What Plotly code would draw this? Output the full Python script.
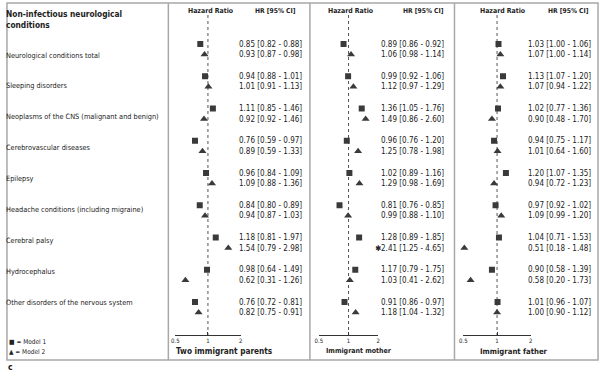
import plotly.graph_objects as go
import math

conditions = [
    "Neurological conditions total",
    "Sleeping disorders",
    "Neoplasms of the CNS (malignant and benign)",
    "Cerebrovascular diseases",
    "Epilepsy",
    "Headache conditions (including migraine)",
    "Cerebral palsy",
    "Hydrocephalus",
    "Other disorders of the nervous system",
]

panel_titles = ["Two immigrant parents", "Immigrant mother", "Immigrant father"]

two_m1_hr = [0.85, 0.94, 1.11, 0.76, 0.96, 0.84, 1.18, 0.98, 0.76]
two_m1_lo = [0.82, 0.88, 0.85, 0.59, 0.84, 0.80, 0.81, 0.64, 0.72]
two_m1_hi = [0.88, 1.01, 1.46, 0.97, 1.09, 0.89, 1.97, 1.49, 0.81]
two_m2_hr = [0.93, 1.01, 0.92, 0.89, 1.09, 0.94, 1.54, 0.62, 0.82]
two_m2_lo = [0.87, 0.91, 0.92, 0.59, 0.88, 0.87, 0.79, 0.31, 0.75]
two_m2_hi = [0.98, 1.13, 1.46, 1.33, 1.36, 1.03, 2.98, 1.26, 0.91]

mother_m1_hr = [0.89, 0.99, 1.36, 0.96, 1.02, 0.81, 1.28, 1.17, 0.91]
mother_m1_lo = [0.86, 0.92, 1.05, 0.76, 0.89, 0.76, 0.89, 0.79, 0.86]
mother_m1_hi = [0.92, 1.06, 1.76, 1.20, 1.16, 0.85, 1.85, 1.75, 0.97]
mother_m2_hr = [1.06, 1.12, 1.49, 1.25, 1.29, 0.99, 2.41, 1.03, 1.18]
mother_m2_lo = [0.98, 0.97, 0.86, 0.78, 0.98, 0.88, 1.25, 0.41, 1.04]
mother_m2_hi = [1.14, 1.29, 2.60, 1.98, 1.69, 1.10, 4.65, 2.62, 1.32]

father_m1_hr = [1.03, 1.13, 1.02, 0.94, 1.20, 0.97, 1.04, 0.90, 1.01]
father_m1_lo = [1.00, 1.07, 0.77, 0.75, 1.07, 0.92, 0.71, 0.58, 0.96]
father_m1_hi = [1.06, 1.20, 1.36, 1.17, 1.35, 1.02, 1.53, 1.39, 1.07]
father_m2_hr = [1.07, 1.07, 0.90, 1.01, 0.94, 1.09, 0.51, 0.58, 1.00]
father_m2_lo = [1.00, 0.94, 0.48, 0.64, 0.72, 0.99, 0.18, 0.20, 0.90]
father_m2_hi = [1.14, 1.22, 1.70, 1.60, 1.23, 1.20, 1.48, 1.73, 1.12]

axis_ticks = [0.5, 1, 2]
axis_ticktext = ["0.5", "1", "2"]

W, H = 604, 373
FONT = "Liberation Sans Narrow, DejaVu Sans Condensed, Arial Narrow, Liberation Sans, sans-serif"
INK = "#3a3a3a"
BORDER = "#a8a8a8"

panels = [
    dict(m1=(two_m1_hr, two_m1_lo, two_m1_hi), m2=(two_m2_hr, two_m2_lo, two_m2_hi),
         ax=(173, 239), ci_right=303, hr_hdr=209, ci_hdr=274, title_x=223, title_size=8.2),
    dict(m1=(mother_m1_hr, mother_m1_lo, mother_m1_hi), m2=(mother_m2_hr, mother_m2_lo, mother_m2_hi),
         ax=(318, 378), ci_right=446, hr_hdr=350, ci_hdr=424, title_x=359, title_size=7),
    dict(m1=(father_m1_hr, father_m1_lo, father_m1_hi), m2=(father_m2_hr, father_m2_lo, father_m2_hi),
         ax=(464, 532), ci_right=595, hr_hdr=503, ci_hdr=570, title_x=515, title_size=7.7),
]

n = len(conditions)
row_y = [44 + i * 32.25 for i in range(n)]
tri_y = [y + 10.5 for y in row_y]
label_y = [55 + i * 30.9 for i in range(n)]
AXIS_Y = 335

def px(x):
    return x / W

fig = go.Figure()
annotations = []
shapes = []

xmin, xmax = min(axis_ticks), max(axis_ticks)

for k, p in enumerate(panels):
    xa = "x" if k == 0 else f"x{k+1}"
    fig.add_trace(go.Scatter(x=[1, 1], y=[15, AXIS_Y], xaxis=xa, yaxis="y", mode="lines",
                             line=dict(color="#555555", width=1, dash="dot"),
                             hoverinfo="skip", showlegend=False))
    hr1, lo1, hi1 = p["m1"]
    hr2, lo2, hi2 = p["m2"]
    vis2 = [(h, y) for h, y in zip(hr2, tri_y) if xmin * 0.99 <= h <= xmax]
    fig.add_trace(go.Scatter(x=hr1, y=row_y, xaxis=xa, yaxis="y", mode="markers",
                             marker=dict(symbol="square", size=6, color=INK),
                             cliponaxis=False, showlegend=False))
    fig.add_trace(go.Scatter(x=[v[0] for v in vis2], y=[v[1] for v in vis2], xaxis=xa, yaxis="y",
                             mode="markers", marker=dict(symbol="triangle-up", size=7, color=INK),
                             cliponaxis=False, showlegend=False))
    for i in range(n):
        annotations.append(dict(x=px(p["ci_right"]), y=row_y[i], xref="paper", yref="y",
                                text=f"{hr1[i]:.2f} [{lo1[i]:.2f} - {hi1[i]:.2f}]",
                                xanchor="right", yanchor="middle", showarrow=False,
                                font=dict(size=8, color="#222", family=FONT)))
        flag = "<b>✱</b>" if hr2[i] > xmax else ""
        annotations.append(dict(x=px(p["ci_right"]), y=tri_y[i], xref="paper", yref="y",
                                text=f"{flag}{hr2[i]:.2f} [{lo2[i]:.2f} - {hi2[i]:.2f}]",
                                xanchor="right", yanchor="middle", showarrow=False,
                                font=dict(size=8, color="#222", family=FONT)))
    annotations.append(dict(x=px(p["hr_hdr"]), y=11, xref="paper", yref="y", text="<b>Hazard Ratio</b>",
                            showarrow=False, xanchor="center", yanchor="middle",
                            font=dict(size=6.9, color="#222", family=FONT)))
    annotations.append(dict(x=px(p["ci_hdr"]), y=11, xref="paper", yref="y", text="<b>HR [95% CI]</b>",
                            showarrow=False, xanchor="center", yanchor="middle",
                            font=dict(size=6.7, color="#222", family=FONT)))
    annotations.append(dict(x=px(p["title_x"]), y=351, xref="paper", yref="y",
                            text=f"<b>{panel_titles[k]}</b>", showarrow=False,
                            xanchor="center", yanchor="middle",
                            font=dict(size=p["title_size"], color="#222", family=FONT)))
    axis_def = dict(type="log", range=[math.log10(xmin), math.log10(xmax)],
                    domain=[px(p["ax"][0]), px(p["ax"][1])], anchor="free",
                    position=1 - AXIS_Y / H, showline=True, linecolor="#333", linewidth=1,
                    tickvals=axis_ticks, ticktext=axis_ticktext, ticks="inside", ticklen=3,
                    tickcolor="#333", tickfont=dict(size=6, color="#222", family=FONT),
                    showgrid=False, zeroline=False, fixedrange=True)
    fig.update_layout(**{("xaxis" if k == 0 else f"xaxis{k+1}"): axis_def})

for i, c in enumerate(conditions):
    annotations.append(dict(x=px(0), y=label_y[i], xref="paper", yref="y", text=c,
                            xanchor="left", yanchor="middle", showarrow=False,
                            font=dict(size=7.3, color="#222", family=FONT)))

annotations.append(dict(x=px(0), y=19, xref="paper", yref="y",
                        text="<b>Non-infectious neurological<br>conditions</b>",
                        xanchor="left", yanchor="middle", align="left", showarrow=False,
                        font=dict(size=8.3, color="#222", family=FONT)))
annotations.append(dict(x=px(3), y=342, xref="paper", yref="y", text="■ = Model 1",
                        xanchor="left", yanchor="middle", showarrow=False,
                        font=dict(size=6.5, color="#222", family=FONT)))
annotations.append(dict(x=px(3), y=352, xref="paper", yref="y", text="▲ = Model 2",
                        xanchor="left", yanchor="middle", showarrow=False,
                        font=dict(size=6.5, color="#222", family=FONT)))
annotations.append(dict(x=px(2), y=367, xref="paper", yref="y", text="<b>c</b>",
                        xanchor="left", yanchor="middle", showarrow=False,
                        font=dict(size=8.5, color="#111", family=FONT)))

shapes.append(dict(type="rect", xref="paper", yref="y", x0=px(3), x1=px(600), y0=3, y1=360,
                   line=dict(color=BORDER, width=1.5)))
for xd in (166, 309, 455):
    shapes.append(dict(type="line", xref="paper", yref="y", x0=px(xd), x1=px(xd), y0=3, y1=360,
                       line=dict(color=BORDER, width=1.5)))

fig.update_layout(
    width=W, height=H, margin=dict(l=0, r=0, t=0, b=0),
    paper_bgcolor="white", plot_bgcolor="rgba(0,0,0,0)",
    yaxis=dict(range=[H, 0], domain=[0, 1], visible=False, fixedrange=True),
    annotations=annotations, shapes=shapes, showlegend=False,
)

fig.write_html("out.html")
